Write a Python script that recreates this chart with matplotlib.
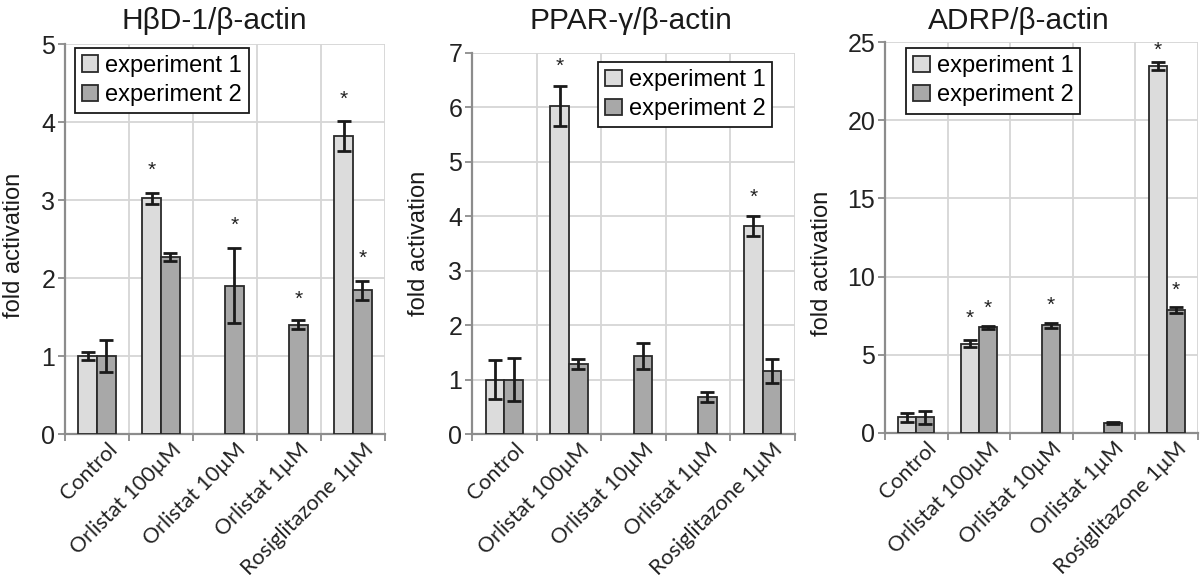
import numpy as np
import matplotlib
matplotlib.use("Agg")
import matplotlib.pyplot as plt
from matplotlib.transforms import ScaledTranslation

categories = ["Control", "Orlistat 100µM", "Orlistat 10µM", "Orlistat 1µM", "Rosiglitazone 1µM"]
series_names = ["experiment 1", "experiment 2"]

# Panel 1: HβD-1/β-actin
hbd_exp1 = [1.0, 3.02, None, None, 3.82]
hbd_exp1_err = [0.05, 0.07, None, None, 0.19]
hbd_exp2 = [1.0, 2.27, 1.90, 1.40, 1.84]
hbd_exp2_err = [0.21, 0.055, 0.48, 0.06, 0.12]
hbd_star1 = [None, 3.38, None, None, 4.29]
hbd_star2 = [None, None, 2.67, 1.73, 2.25]

# Panel 2: PPAR-γ/β-actin
ppar_exp1 = [1.0, 6.03, None, None, 3.82]
ppar_exp1_err = [0.36, 0.37, None, None, 0.19]
ppar_exp2 = [1.0, 1.28, 1.43, 0.68, 1.15]
ppar_exp2_err = [0.40, 0.09, 0.24, 0.09, 0.22]
ppar_star1 = [None, 6.76, None, None, 4.35]
ppar_star2 = [None, None, None, None, None]

# Panel 3: ADRP/β-actin
adrp_exp1 = [1.0, 5.72, None, None, 23.48]
adrp_exp1_err = [0.30, 0.20, None, None, 0.25]
adrp_exp2 = [1.0, 6.75, 6.88, 0.62, 7.85]
adrp_exp2_err = [0.43, 0.10, 0.16, 0.07, 0.18]
adrp_star1 = [None, 7.3, None, None, 24.46]
adrp_star2 = [None, 7.97, 8.19, None, 9.15]

titles = ["HβD-1/β-actin", "PPAR-γ/β-actin", "ADRP/β-actin"]
ylims = [5, 7, 25]
yticks = [[0, 1, 2, 3, 4, 5], [0, 1, 2, 3, 4, 5, 6, 7], [0, 5, 10, 15, 20, 25]]

panels = [
    (hbd_exp1, hbd_exp1_err, hbd_exp2, hbd_exp2_err, hbd_star1, hbd_star2),
    (ppar_exp1, ppar_exp1_err, ppar_exp2, ppar_exp2_err, ppar_star1, ppar_star2),
    (adrp_exp1, adrp_exp1_err, adrp_exp2, adrp_exp2_err, adrp_star1, adrp_star2),
]

W, H = 1200, 582
fig = plt.figure(figsize=(12, 5.82), dpi=100)

rects_px = [(65, 385, 434, 44), (472, 795, 434, 53), (885, 1198, 433, 42)]
title_pos = [(214, 21), (631, 21), (1019, 21)]
ylabel_pos = [(14, 245), (419, 243), (822, 263)]
legend_anchor = [(0.03, 0.99), (0.39, 0.976), (0.067, 0.984)]

colors = ["#dcdcdc", "#a8a8a8"]
edge = "#2a2a2a"
grid_c = "#d6d6d6"
spine_c = "#8c8c8c"
sans = ["Liberation Sans", "DejaVu Sans"]
lab_font = ["Lato", "DejaVu Sans"]

width = 0.29
x = np.arange(len(categories))

for k, (e1, e1err, e2, e2err, s1, s2) in enumerate(panels):
    l, r, b, t = rects_px[k]
    ax = fig.add_axes([l / W, 1 - b / H, (r - l) / W, (b - t) / H])
    for si, (vals, errs, stars) in enumerate([(e1, e1err, s1), (e2, e2err, s2)]):
        off = -width / 2 if si == 0 else width / 2
        xs = [xi + off for xi, v in zip(x, vals) if v is not None]
        vs = [v for v in vals if v is not None]
        es = [e for v, e in zip(vals, errs) if v is not None]
        ax.bar(xs, vs, width=width, color=colors[si], edgecolor=edge, linewidth=1.3,
               label=series_names[si], zorder=3)
        ax.errorbar(xs, vs, yerr=es, fmt="none", ecolor="#1a1a1a", elinewidth=2,
                    capsize=5, capthick=2, zorder=4)
        for xi, sv in zip(x, stars):
            if sv is not None:
                ax.text(xi + off, sv, "*", ha="center", va="center", fontsize=15,
                        family=sans, color="#222222", zorder=5)
    ax.set_xlim(-0.5, len(categories) - 0.5)
    ax.set_ylim(0, ylims[k])
    ax.set_yticks(yticks[k])
    ax.set_yticklabels([str(v) for v in yticks[k]], fontsize=18, family=sans, color="#222222")
    ax.yaxis.grid(True, color=grid_c, linewidth=1.3, zorder=0)
    ax.set_xticks(x)
    ax.set_xticks(np.arange(-0.5, len(categories)), minor=True)
    ax.xaxis.grid(True, which="minor", color=grid_c, linewidth=1.3, zorder=0)
    ax.tick_params(axis="x", which="major", length=0, pad=4)
    ax.tick_params(axis="x", which="minor", length=5, width=1.3, color=spine_c, direction="out")
    ax.tick_params(axis="y", length=5, width=1.3, color=spine_c, direction="out", pad=2)
    ax.set_xticklabels(categories, rotation=45, ha="right", va="top", rotation_mode="anchor",
                       fontsize=15.5, family=lab_font, color="#222222")
    shift = ScaledTranslation(0.1, 0, fig.dpi_scale_trans)
    for lab in ax.get_xticklabels():
        lab.set_transform(lab.get_transform() + shift)
    for s in ["top", "right"]:
        ax.spines[s].set_visible(False)
    for s in ["left", "bottom"]:
        ax.spines[s].set_color(spine_c)
        ax.spines[s].set_linewidth(1.6)
    ax.set_axisbelow(True)
    leg = ax.legend(loc="upper left", bbox_to_anchor=legend_anchor[k], fancybox=False,
                    edgecolor="#1a1a1a", framealpha=1, prop={"family": sans, "size": 17},
                    handlelength=0.7, handleheight=0.7, handletextpad=0.3,
                    borderpad=0.3, labelspacing=0.3, borderaxespad=0)
    leg.get_frame().set_linewidth(1.3)
    fig.text(title_pos[k][0] / W, 1 - title_pos[k][1] / H, titles[k], ha="center", va="center",
             fontsize=21.5, family=sans, color="#1a1a1a")
    fig.text(ylabel_pos[k][0] / W, 1 - ylabel_pos[k][1] / H, "fold activation", ha="center",
             va="center", rotation=90, fontsize=17, family=sans, color="#1a1a1a")

fig.savefig("out.png", dpi=100)
